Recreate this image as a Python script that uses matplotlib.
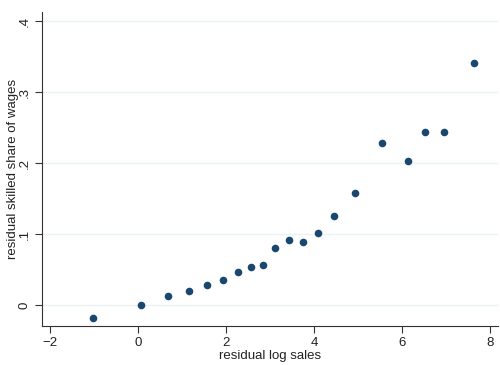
import matplotlib
matplotlib.use("Agg")
import matplotlib.pyplot as plt

plt.rcParams['font.family'] = ['Liberation Sans', 'DejaVu Sans']

# binned residuals
log_sales = [-1.02, 0.07, 0.68, 1.15, 1.56, 1.94, 2.27, 2.56, 2.84, 3.11,
             3.43, 3.74, 4.09, 4.45, 4.93, 5.55, 6.13, 6.52, 6.95, 7.63]
skilled_share = [-0.018, 0.000, 0.012, 0.020, 0.028, 0.035, 0.046, 0.054, 0.056, 0.080,
                 0.092, 0.089, 0.101, 0.126, 0.158, 0.229, 0.203, 0.244, 0.244, 0.341]

xticks = [-2, 0, 2, 4, 6, 8]
yticks = [0, 0.1, 0.2, 0.3, 0.4]
ytick_labels = ['0', '.1', '.2', '.3', '.4']

fig = plt.figure(figsize=(5, 3.65), dpi=100)
ax = fig.add_axes([0.084, 0.107, 0.912, 0.860])

ax.scatter(log_sales, skilled_share, s=30, color='#1a476f', zorder=3, linewidths=0)

ax.set_xlim(-2.18, 8.18)
ax.set_ylim(-0.0296, 0.413)
ax.set_xticks(xticks)
ax.set_xticklabels([str(t).replace('-', '\u2212') for t in xticks])
ax.set_yticks(yticks)
ax.set_yticklabels(ytick_labels, rotation=90, va='center')

ax.grid(axis='y', color='#eaf2f3', linewidth=1)
ax.set_axisbelow(True)
for side in ['top', 'right']:
    ax.spines[side].set_visible(False)
for side in ['left', 'bottom']:
    ax.spines[side].set_color('#333333')
ax.tick_params(direction='out', length=5, color='#333333', labelsize=9.5, labelcolor='#222222', pad=3)

ax.set_xlabel('residual log sales', fontsize=9.5, color='#222222', labelpad=1)
ax.set_ylabel('residual skilled share of wages', fontsize=9.5, color='#222222',
              ha='center', va='center')
ax.yaxis.set_label_coords(-0.064, 0.5)

fig.savefig('out.png', dpi=100)
